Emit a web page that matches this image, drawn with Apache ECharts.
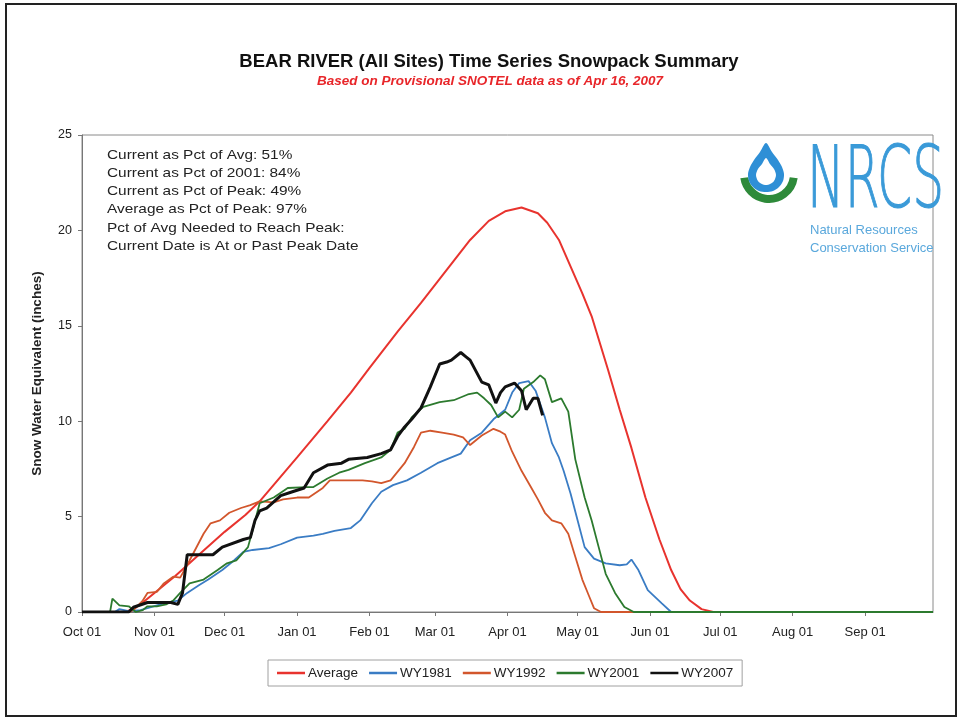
<!DOCTYPE html>
<html>
<head>
<meta charset="utf-8">
<script src="https://cdn.jsdelivr.net/npm/echarts@6/dist/echarts.min.js"></script>
<style>
  html, body { margin: 0; padding: 0; background: #fff; }
  #chart { width: 962px; height: 721px; }
</style>
</head>
<body>
<div id="chart"></div>
<script>
// x = days since Oct 01 of the water year, y = SWE in inches
const monthDays = [0, 31, 61, 92, 123, 151, 182, 212, 243, 273, 304, 335]
const monthLabels = ["Oct 01", "Nov 01", "Dec 01", "Jan 01", "Feb 01", "Mar 01", "Apr 01", "May 01", "Jun 01", "Jul 01", "Aug 01", "Sep 01"]
const yTicks = [0, 5, 10, 15, 20, 25]

const average = [
  [0, 0], [18, 0], [22, 0.15], [26, 0.5], [31, 1.0], [40, 1.9], [50, 3.0], [61, 4.2], [70, 5.1], [76, 5.8],
  [85, 7.1], [92, 8.1], [105, 10.0], [115, 11.5], [123, 12.8], [135, 14.7], [145, 16.2], [152, 17.3],
  [159, 18.4], [166, 19.5], [174, 20.5], [181, 21.0], [188, 21.2], [195, 20.9], [199, 20.4], [204, 19.5],
  [209, 18.1], [214, 16.7], [218, 15.5], [225, 12.7], [230, 10.6], [235, 8.6], [241, 6.0], [247, 3.8],
  [252, 2.2], [256, 1.2], [260, 0.6], [265, 0.15], [270, 0], [364, 0]
]
const wy1981 = [
  [0, 0], [14, 0], [16, 0.15], [20, 0.05], [25, 0.1], [28, 0.2], [35, 0.45], [41, 0.6], [45, 1.0], [50, 1.4],
  [54, 1.7], [60, 2.2], [65, 2.7], [69, 3.15], [73, 3.25], [80, 3.35], [85, 3.55], [92, 3.9], [99, 4.0],
  [103, 4.1], [108, 4.25], [115, 4.4], [119, 4.8], [124, 5.7], [128, 6.3], [133, 6.65], [139, 6.9],
  [145, 7.3], [152, 7.8], [158, 8.1], [162, 8.3], [166, 9.0], [171, 9.4], [176, 10.1], [181, 10.6],
  [184, 11.5], [187, 12.0], [191, 12.1], [194, 11.6], [198, 10.2], [201, 8.85], [204, 8.1], [206, 7.4],
  [209, 6.2], [212, 4.8], [215, 3.4], [219, 2.8], [224, 2.55], [230, 2.45], [233, 2.5], [235, 2.75],
  [238, 2.2], [242, 1.15], [248, 0.45], [252, 0], [364, 0]
]
const wy1992 = [
  [0, 0], [20, 0], [22, 0.1], [26, 0.6], [28, 1.0], [32, 1.05], [35, 1.5], [39, 1.85], [42, 1.8], [46, 2.7],
  [52, 4.1], [55, 4.65], [59, 4.8], [63, 5.2], [68, 5.45], [72, 5.6], [76, 5.8], [82, 5.75], [86, 5.9],
  [92, 6.0], [97, 6.0], [103, 6.5], [106, 6.9], [114, 6.9], [120, 6.9], [124, 6.85], [128, 6.75],
  [132, 6.9], [138, 7.8], [142, 8.65], [145, 9.4], [149, 9.5], [154, 9.4], [159, 9.3], [163, 9.15],
  [166, 8.75], [171, 9.25], [176, 9.6], [179, 9.45], [181, 9.3], [184, 8.4], [188, 7.4], [192, 6.55],
  [195, 5.9], [198, 5.2], [201, 4.8], [205, 4.65], [208, 4.1], [211, 2.9], [214, 1.7], [217, 0.8],
  [219, 0.2], [222, 0], [364, 0]
]
const wy2001 = [
  [0, 0], [12, 0], [13, 0.7], [16, 0.35], [20, 0.3], [23, 0], [26, 0.1], [28, 0.3], [32, 0.3], [36, 0.4],
  [39, 0.6], [42, 1.0], [46, 1.5], [52, 1.7], [58, 2.2], [62, 2.55], [66, 2.7], [71, 3.4], [73, 4.3],
  [76, 5.7], [82, 6.0], [88, 6.5], [96, 6.55], [99, 6.55], [105, 7.0], [110, 7.3], [114, 7.45], [121, 7.8],
  [128, 8.1], [132, 8.5], [135, 9.4], [138, 9.6], [141, 10.2], [146, 10.75], [153, 11.0], [159, 11.1],
  [165, 11.4], [169, 11.5], [172, 11.2], [175, 10.85], [178, 10.2], [181, 10.5], [184, 10.2], [187, 10.6],
  [189, 11.7], [193, 12.05], [196, 12.4], [198, 12.2], [201, 11.0], [205, 11.2], [208, 10.5], [211, 8.0],
  [215, 6.0], [218, 4.8], [221, 3.4], [224, 2.0], [228, 1.0], [232, 0.26], [236, 0], [364, 0]
]
const wy2007 = [
  [0, 0], [20, 0], [22, 0.25], [28, 0.5], [38, 0.5], [41, 0.4], [43, 1.0], [45, 3.0], [56, 3.0], [60, 3.4],
  [69, 3.8], [72, 3.9], [74, 4.8], [76, 5.3], [79, 5.45], [85, 6.1], [90, 6.3], [95, 6.5], [99, 7.3],
  [105, 7.7], [111, 7.8], [114, 8.0], [122, 8.1], [128, 8.3], [132, 8.5], [135, 9.2], [138, 9.7],
  [141, 10.1], [145, 10.7], [149, 11.8], [153, 13.0], [156, 13.1], [158, 13.2], [162, 13.6], [164, 13.4],
  [166, 13.2], [171, 12.05], [174, 11.9], [177, 10.95], [179, 11.5], [181, 11.8], [185, 12.0], [188, 11.6],
  [190, 10.6], [193, 11.2], [195, 11.2], [197, 10.3]
]

const statLines = [
  "Current as Pct of Avg: 51%",
  "Current as Pct of 2001: 84%",
  "Current as Pct of Peak: 49%",
  "Average as Pct of Peak: 97%",
  "Pct of Avg Needed to Reach Peak:",
  "Current Date is At or Past Peak Date"
]

const font = "Liberation Sans, Arial, sans-serif"
const chart = echarts.init(document.getElementById("chart"))

function line(name, data, color, width) {
  return {
    name: name,
    type: "line",
    data: data,
    showSymbol: false,
    symbol: "none",
    lineStyle: { color: color, width: width },
    itemStyle: { color: color },
    z: name === "WY2007" ? 5 : 3,
  }
}

// logo drop outline (decoration only)
const dropOuter = [[766, 143], [772, 152], [778, 160], [782, 167], [784, 174], [783, 181], [779, 187], [773, 191],
  [766, 192], [759, 191], [753, 187], [749, 181], [748, 174], [750, 167], [754, 160], [760, 152]]
const dropInner = [[766, 158], [770, 164], [774, 169], [776, 175], [774, 181], [770, 184], [766, 185],
  [762, 184], [758, 181], [756, 175], [758, 169], [762, 164]]

const option = {
  backgroundColor: "#fff",
  animation: false,
  textStyle: { fontFamily: font },
  grid: {
    left: 82,
    right: 29,
    top: 135,
    bottom: 109,
    show: true,
    borderColor: "#8a8a8a",
    borderWidth: 1,
  },
  legend: {
    left: 268,
    top: 660,
    padding: [6, 9],
    itemGap: 11,
    itemWidth: 28,
    itemHeight: 2.5,
    icon: "rect",
    borderColor: "#a0a0a0",
    borderWidth: 1,
    textStyle: { fontSize: 13.5, color: "#222", fontFamily: font, padding: [0, 0, 0, -2] },
    data: ["Average", "WY1981", "WY1992", "WY2001", "WY2007"],
  },
  xAxis: {
    type: "value",
    min: 0,
    max: 364,
    splitLine: { show: false },
    axisLine: { show: true, onZero: false, lineStyle: { color: "#777" } },
    axisTick: { show: true, length: 4, customValues: monthDays, lineStyle: { color: "#777" } },
    axisLabel: {
      customValues: monthDays,
      formatter: (v) => monthLabels[monthDays.indexOf(v)] || "",
      color: "#222",
      fontSize: 13,
      margin: 14,
    },
  },
  yAxis: {
    type: "value",
    min: 0,
    max: 25,
    interval: 5,
    name: "Snow Water Equivalent (inches)",
    nameLocation: "middle",
    nameRotate: 90,
    nameGap: 38,
    nameTextStyle: { fontSize: 13.5, fontWeight: "bold", color: "#222" },
    splitLine: { show: false },
    axisLine: { show: true, lineStyle: { color: "#777" } },
    axisTick: { show: true, length: 4, lineStyle: { color: "#777" } },
    axisLabel: { color: "#222", fontSize: 12.5, margin: 10 },
  },
  series: [
    line("Average", average, "#e8332e", 2),
    line("WY1981", wy1981, "#3a7cc4", 1.8),
    line("WY1992", wy1992, "#d2562c", 1.8),
    line("WY2001", wy2001, "#2c7a2e", 1.8),
    line("WY2007", wy2007, "#111111", 3),
  ],
  graphic: [
    {
      type: "rect",
      shape: { x: 6, y: 4, width: 950, height: 712 },
      style: { fill: "none", stroke: "#222", lineWidth: 2 },
      silent: true,
    },
    {
      type: "text",
      x: 489, y: 52,
      style: {
        text: "BEAR RIVER (All Sites) Time Series Snowpack Summary",
        font: "bold 18.5px " + font,
        fill: "#111",
        textAlign: "center",
      },
    },
    {
      type: "text",
      x: 490, y: 74,
      style: {
        text: "Based on Provisional SNOTEL data as of Apr 16, 2007",
        font: "italic bold 13.5px " + font,
        fill: "#e8262a",
        textAlign: "center",
      },
    },
    {
      type: "text",
      x: 107, y: 146,
      scaleX: 1.14,
      style: {
        text: statLines.join("\n"),
        font: "13.5px " + font,
        lineHeight: 18.2,
        fill: "#222",
      },
    },
    // NRCS logo
    {
      type: "arc",
      shape: { cx: 769, cy: 174, r: 25, startAngle: 0.15, endAngle: Math.PI - 0.15, clockwise: true },
      style: { stroke: "#2e8a3a", lineWidth: 8, fill: "none" },
      silent: true,
    },
    {
      type: "polygon",
      shape: { points: dropOuter, smooth: 0.3 },
      style: { fill: "#2e8fd6" },
      silent: true,
    },
    {
      type: "polygon",
      shape: { points: dropInner, smooth: 0.3 },
      style: { fill: "#fff" },
      silent: true,
    },
    {
      type: "text",
      x: 807, y: 142,
      scaleX: 0.585,
      style: {
        text: "NRCS",
        font: "200 86px DejaVu Sans, Liberation Sans Narrow, sans-serif",
        fill: "#3a9ad8",
        stroke: "#3a9ad8",
        lineWidth: 1.2,
      },
    },
    {
      type: "text",
      x: 810, y: 221,
      style: {
        text: "Natural Resources\nConservation Service",
        font: "13px Liberation Sans Narrow, Liberation Sans, sans-serif",
        lineHeight: 18,
        fill: "#5aa8dc",
      },
    },
  ],
}

chart.setOption(option)
</script>
</body>
</html>
